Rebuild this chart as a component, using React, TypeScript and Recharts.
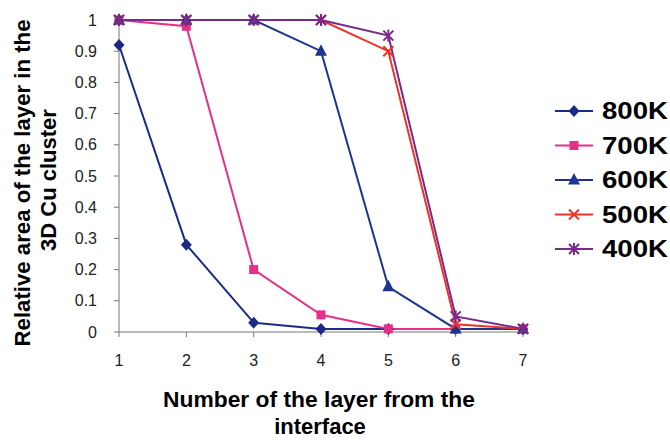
import React from "react";
import { LineChart, Line, XAxis, YAxis, Label } from "recharts";

const layers = [1, 2, 3, 4, 5, 6, 7];
const k800 = [0.92, 0.28, 0.03, 0.01, 0.01, 0.01, 0.01];
const k700 = [1, 0.98, 0.2, 0.055, 0.01, 0.01, 0.01];
const k600 = [1, 1, 1, 0.9, 0.145, 0.01, 0.01];
const k500 = [1, 1, 1, 1, 0.9, 0.025, 0.01];
const k400 = [1, 1, 1, 1, 0.95, 0.05, 0.01];
const yTicks = [0, 0.1, 0.2, 0.3, 0.4, 0.5, 0.6, 0.7, 0.8, 0.9, 1];

const series = [
  { key: "k800", name: "800K", values: k800, color: "#1b2a86", shape: "diamond" },
  { key: "k700", name: "700K", values: k700, color: "#e5308a", shape: "square" },
  { key: "k600", name: "600K", values: k600, color: "#1d3591", shape: "triangle" },
  { key: "k500", name: "500K", values: k500, color: "#ee3226", shape: "cross" },
  { key: "k400", name: "400K", values: k400, color: "#772a8a", shape: "star" },
];

const data = layers.map((layer, i) => {
  const row: any = { layer };
  series.forEach((s) => (row[s.key] = s.values[i]));
  return row;
});

const FONT = "Arial, 'Liberation Sans', sans-serif";

const Marker = ({ cx, cy, shape, color }: any) => {
  if (cx == null || cy == null) return null;
  switch (shape) {
    case "diamond":
      return (
        <polygon
          points={`${cx},${cy - 6} ${cx + 5.5},${cy} ${cx},${cy + 6} ${cx - 5.5},${cy}`}
          fill={color}
        />
      );
    case "square":
      return <rect x={cx - 4.5} y={cy - 4.5} width={9} height={9} fill={color} />;
    case "triangle":
      return (
        <polygon
          points={`${cx},${cy - 7} ${cx + 6},${cy + 4.5} ${cx - 6},${cy + 4.5}`}
          fill={color}
        />
      );
    case "cross":
      return (
        <g stroke={color} strokeWidth={2}>
          <line x1={cx - 5} y1={cy - 5} x2={cx + 5} y2={cy + 5} />
          <line x1={cx - 5} y1={cy + 5} x2={cx + 5} y2={cy - 5} />
        </g>
      );
    default:
      return (
        <g stroke={color} strokeWidth={2}>
          <line x1={cx - 5} y1={cy - 5} x2={cx + 5} y2={cy + 5} />
          <line x1={cx - 5} y1={cy + 5} x2={cx + 5} y2={cy - 5} />
          <line x1={cx} y1={cy - 6} x2={cx} y2={cy + 6} />
        </g>
      );
  }
};

const YTitle = () => (
  <g fontFamily={FONT} fontWeight="bold" fontSize={22} fill="#000" textAnchor="middle">
    <text transform="translate(30,183) rotate(-90)" textLength={327} lengthAdjust="spacingAndGlyphs">
      Relative area of the layer in the
    </text>
    <text transform="translate(56,180) rotate(-90)">3D Cu cluster</text>
  </g>
);

const XTitle = () => (
  <g fontFamily={FONT} fontWeight="bold" fontSize={22} fill="#000" textAnchor="middle">
    <text x={319} y={407} textLength={312} lengthAdjust="spacingAndGlyphs">
      Number of the layer from the
    </text>
    <text x={320} y={434}>interface</text>
  </g>
);

const LegendBox = () => (
  <svg
    width={130}
    height={200}
    style={{ position: "absolute", left: 540, top: 95 }}
  >
    {series.map((s, i) => {
      const y = 16 + i * 34.5;
      return (
        <g key={s.key}>
          <line x1={15} x2={53} y1={y} y2={y} stroke={s.color} strokeWidth={2} />
          <Marker cx={34} cy={y} shape={s.shape} color={s.color} />
          <text
            x={62}
            y={y + 8}
            fontFamily={FONT}
            fontWeight="bold"
            fontSize={23}
            textLength={66}
            lengthAdjust="spacingAndGlyphs"
          >
            {s.name}
          </text>
        </g>
      );
    })}
  </svg>
);

export default function App() {
  return (
    <div style={{ position: "absolute", left: 0, top: 0, width: 670, height: 440, background: "#fff" }}>
      <LineChart
        width={670}
        height={440}
        data={data}
        margin={{ top: 20, right: 147, left: 59, bottom: 68 }}
      >
        <XAxis
          type="number"
          dataKey="layer"
          domain={[1, 7]}
          ticks={layers}
          height={40}
          stroke="#777"
          tickSize={5}
          tickMargin={18}
          tick={{ fill: "#222", fontSize: 16, fontFamily: FONT }}
        >
          <Label content={<XTitle />} />
        </XAxis>
        <YAxis
          type="number"
          domain={[0, 1]}
          ticks={yTicks}
          width={60}
          stroke="#777"
          tickSize={5}
          tickMargin={17}
          tick={{ fill: "#222", fontSize: 16, fontFamily: FONT }}
        >
          <Label content={<YTitle />} />
        </YAxis>
        {series.map((s) => (
          <Line
            key={s.key}
            type="linear"
            dataKey={s.key}
            name={s.name}
            stroke={s.color}
            strokeWidth={2}
            isAnimationActive={false}
            dot={(p: any) => (
              <Marker key={`${s.key}-${p.index}`} cx={p.cx} cy={p.cy} shape={s.shape} color={s.color} />
            )}
            activeDot={false}
          />
        ))}
      </LineChart>
      <LegendBox />
    </div>
  );
}
